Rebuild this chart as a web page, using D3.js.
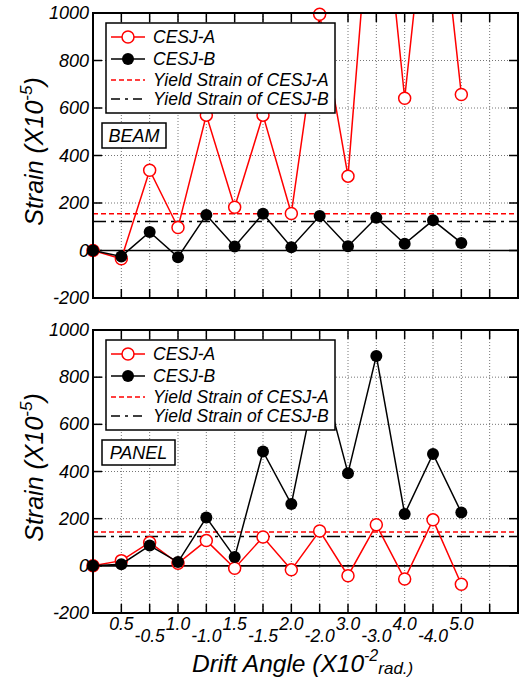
<!DOCTYPE html>
<html>
<head>
<meta charset="utf-8">
<script src="https://cdn.jsdelivr.net/npm/d3@7"></script>
<style>
  body { margin: 0; background: #fff; }
  svg text { font-family: "Liberation Sans", Arial, sans-serif; font-style: italic; }
</style>
</head>
<body>
<div id="chart"></div>
<script>
// drift angle steps (x10^-2 rad.), one per loading cycle
var xLabels = ["0", "0.5", "-0.5", "1.0", "-1.0", "1.5", "-1.5", "2.0", "-2.0", "3.0", "-3.0", "4.0", "-4.0", "5.0"];
var yTicks = [-200, 0, 200, 400, 600, 800, 1000];

// BEAM strain (x10^-5)
var beamA = [0, -35, 338, 97, 570, 182, 570, 156, 995, 313, 1800, 641, 1750, 657];
var beamB = [0, -25, 78, -28, 150, 17, 155, 14, 145, 18, 138, 28, 127, 32];
var beamYield = [155, 122];

// PANEL strain (x10^-5)
var panelA = [0, 22, 99, 11, 107, -10, 122, -17, 148, -42, 174, -56, 195, -78];
var panelB = [0, 7, 86, 16, 205, 37, 485, 262, 848, 393, 890, 220, 474, 226];
var panelYield = [143, 124];

var seriesNames = ["CESJ-A", "CESJ-B", "Yield Strain of CESJ-A", "Yield Strain of CESJ-B"];

var W = 520, H = 682;
var svg = d3.select("#chart").append("svg").attr("width", W).attr("height", H);

var x = d3.scaleLinear().domain([0, 15]).range([93, 518]);
var xTickIdx = d3.range(1, 15);
var dashB = "13,5,3,5";

function drawPanel(id, top, bottom, dataA, dataB, yld, tag, tagW, showX) {
  var y = d3.scaleLinear().domain([-200, 1000]).range([bottom, top]);
  var g = svg.append("g");
  var x0 = x.range()[0], x1 = x.range()[1];

  svg.append("clipPath").attr("id", "clip" + id)
    .append("rect").attr("x", x0).attr("y", top).attr("width", x1 - x0).attr("height", bottom - top);

  // grid
  g.selectAll(".vg").data(xTickIdx).enter().append("line")
    .attr("x1", d => x(d)).attr("x2", d => x(d)).attr("y1", top).attr("y2", bottom)
    .attr("stroke", "#666").attr("stroke-width", 0.9).attr("stroke-dasharray", "1,2");
  g.selectAll(".hg").data([200, 400, 600, 800]).enter().append("line")
    .attr("x1", x0).attr("x2", x1).attr("y1", d => y(d)).attr("y2", d => y(d))
    .attr("stroke", "#666").attr("stroke-width", 0.9).attr("stroke-dasharray", "1,2");

  // zero line
  g.append("line").attr("x1", x0).attr("x2", x1).attr("y1", y(0)).attr("y2", y(0))
    .attr("stroke", "#000").attr("stroke-width", 1.6);

  // inner ticks
  g.selectAll(".tt").data(xTickIdx).enter().append("line")
    .attr("x1", d => x(d)).attr("x2", d => x(d)).attr("y1", top).attr("y2", top + 9)
    .attr("stroke", "#000").attr("stroke-width", 1.5);
  g.selectAll(".bt").data(xTickIdx).enter().append("line")
    .attr("x1", d => x(d)).attr("x2", d => x(d)).attr("y1", bottom).attr("y2", bottom - 9)
    .attr("stroke", "#000").attr("stroke-width", 1.5);
  g.selectAll(".lt").data(yTicks.slice(1, -1)).enter().append("line")
    .attr("x1", x0).attr("x2", x0 + 9).attr("y1", d => y(d)).attr("y2", d => y(d))
    .attr("stroke", "#000").attr("stroke-width", 1.5);
  g.selectAll(".rt").data(yTicks.slice(1, -1)).enter().append("line")
    .attr("x1", x1).attr("x2", x1 - 9).attr("y1", d => y(d)).attr("y2", d => y(d))
    .attr("stroke", "#000").attr("stroke-width", 1.5);

  // yield lines
  g.append("line").attr("x1", x0).attr("x2", x1).attr("y1", y(yld[0])).attr("y2", y(yld[0]))
    .attr("stroke", "#f00").attr("stroke-width", 1.5).attr("stroke-dasharray", "5,3");
  g.append("line").attr("x1", x0).attr("x2", x1).attr("y1", y(yld[1])).attr("y2", y(yld[1]))
    .attr("stroke", "#000").attr("stroke-width", 1.5).attr("stroke-dasharray", dashB);

  var line = d3.line().x((d, i) => x(i)).y(d => y(d));

  // CESJ-A
  g.append("path").datum(dataA).attr("d", line).attr("fill", "none")
    .attr("stroke", "#f00").attr("stroke-width", 1.5).attr("clip-path", "url(#clip" + id + ")");
  g.selectAll(".ma").data(dataA.map((v, i) => [i, v]).filter(d => d[1] <= 1000)).enter()
    .append("circle").attr("cx", d => x(d[0])).attr("cy", d => y(d[1])).attr("r", 6)
    .attr("fill", "#fff").attr("stroke", "#f00").attr("stroke-width", 1.5);

  // CESJ-B
  g.append("path").datum(dataB).attr("d", line).attr("fill", "none")
    .attr("stroke", "#000").attr("stroke-width", 1.5).attr("clip-path", "url(#clip" + id + ")");
  g.selectAll(".mb").data(dataB.map((v, i) => [i, v]).filter(d => d[1] <= 1000)).enter()
    .append("circle").attr("cx", d => x(d[0])).attr("cy", d => y(d[1])).attr("r", 6)
    .attr("fill", "#000");

  // frame
  g.append("rect").attr("x", x0).attr("y", top).attr("width", x1 - x0).attr("height", bottom - top)
    .attr("fill", "none").attr("stroke", "#000").attr("stroke-width", 2);

  // y tick labels
  g.selectAll(".yl").data(yTicks).enter().append("text")
    .attr("x", x0 - 4).attr("y", d => y(d) + 6).attr("text-anchor", "end")
    .attr("font-size", 18).text(d => d);

  // y title
  var yt = g.append("text")
    .attr("transform", "translate(43," + ((top + bottom) / 2 - 4) + ") rotate(-90)")
    .attr("text-anchor", "middle").attr("font-size", 25);
  yt.append("tspan").text("Strain (X10");
  yt.append("tspan").attr("dy", -11).attr("font-size", 17).text("-5");
  yt.append("tspan").attr("dy", 11).text(")");

  // legend
  var lx = 106, ly = top + 10;
  var lg = g.append("g").attr("transform", "translate(" + lx + "," + ly + ")");
  lg.append("rect").attr("width", 229).attr("height", 90)
    .attr("fill", "#fff").attr("stroke", "#000").attr("stroke-width", 1.5);
  var rows = [14, 36, 57, 76];
  var styles = [
    { c: "#f00", dash: null, m: "open" },
    { c: "#000", dash: null, m: "fill" },
    { c: "#f00", dash: "5,3", m: null },
    { c: "#000", dash: "9,5,3,5", m: null }
  ];
  seriesNames.forEach(function (name, i) {
    var ry = rows[i], s = styles[i];
    lg.append("line").attr("x1", 5).attr("x2", 39).attr("y1", ry).attr("y2", ry)
      .attr("stroke", s.c).attr("stroke-width", 1.5).attr("stroke-dasharray", s.dash);
    if (s.m === "open") {
      lg.append("circle").attr("cx", 22).attr("cy", ry).attr("r", 6)
        .attr("fill", "#fff").attr("stroke", s.c).attr("stroke-width", 1.5);
    } else if (s.m === "fill") {
      lg.append("circle").attr("cx", 22).attr("cy", ry).attr("r", 6).attr("fill", s.c);
    }
    lg.append("text").attr("x", 47).attr("y", ry + 6).attr("font-size", 17.5).text(name);
  });

  // panel tag
  var ty = top + 110;
  g.append("rect").attr("x", 102).attr("y", ty).attr("width", tagW).attr("height", 25)
    .attr("fill", "#fff").attr("stroke", "#000").attr("stroke-width", 1.5);
  g.append("text").attr("x", 102 + tagW / 2).attr("y", ty + 19).attr("text-anchor", "middle")
    .attr("font-size", 18).text(tag);

  if (showX) {
    g.selectAll(".xl").data(d3.range(1, xLabels.length)).enter().append("text")
      .attr("x", d => x(d)).attr("y", d => d % 2 === 1 ? bottom + 17 : bottom + 29)
      .attr("text-anchor", "middle").attr("font-size", 17.5).text(d => xLabels[d]);
    var xt = g.append("text").attr("x", 192).attr("y", 672).attr("font-size", 24.5);
    xt.append("tspan").text("Drift Angle (X10");
    xt.append("tspan").attr("dy", -11).attr("font-size", 16).text("-2");
    xt.append("tspan").attr("dy", 13).attr("font-size", 17).text("rad.)");
  }
}

drawPanel("beam", 13, 298, beamA, beamB, beamYield, "BEAM", 64, false);
drawPanel("panel", 330, 613, panelA, panelB, panelYield, "PANEL", 73, true);
</script>
</body>
</html>
